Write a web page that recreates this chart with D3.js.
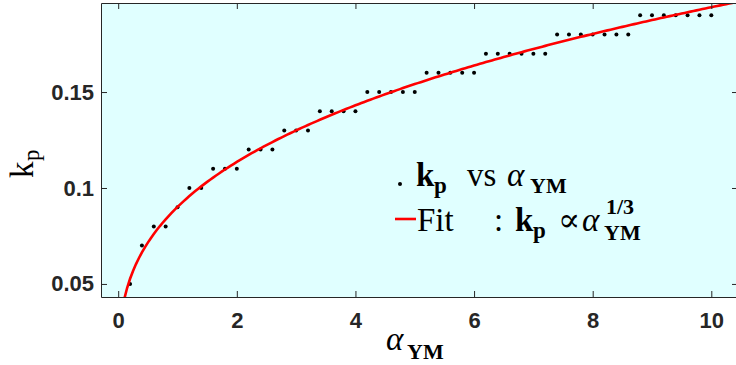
<!DOCTYPE html>
<html>
<head>
<meta charset="utf-8">
<script src="https://cdn.jsdelivr.net/npm/d3@7"></script>
<style>
body { margin: 0; background: #fff; }
</style>
</head>
<body>
<svg id="chart" width="736" height="365"></svg>
<script>
// kp vs alpha_YM data
const alphaYM = [0.2, 0.4, 0.6, 0.8, 1.0, 1.2, 1.4, 1.6, 1.8, 2.0,
                 2.2, 2.4, 2.6, 2.8, 3.0, 3.2, 3.4, 3.6, 3.8, 4.0,
                 4.2, 4.4, 4.6, 4.8, 5.0, 5.2, 5.4, 5.6, 5.8, 6.0,
                 6.2, 6.4, 6.6, 6.8, 7.0, 7.2, 7.4, 7.6, 7.8, 8.0,
                 8.2, 8.4, 8.6, 8.8, 9.0, 9.2, 9.4, 9.6, 9.8, 10.0];
const kp = [0.05, 0.07, 0.08, 0.08, 0.09, 0.10, 0.10, 0.11, 0.11, 0.11,
            0.12, 0.12, 0.12, 0.13, 0.13, 0.13, 0.14, 0.14, 0.14, 0.14,
            0.15, 0.15, 0.15, 0.15, 0.15, 0.16, 0.16, 0.16, 0.16, 0.16,
            0.17, 0.17, 0.17, 0.17, 0.17, 0.17, 0.18, 0.18, 0.18, 0.18,
            0.18, 0.18, 0.18, 0.19, 0.19, 0.19, 0.19, 0.19, 0.19, 0.19];
const xTicks = [0, 2, 4, 6, 8, 10];
const yTicks = [0.05, 0.1, 0.15];
const yTickLabels = ["0.05", "0.1", "0.15"];

const X_DOMAIN = [-0.29, 10.45];
const Y_DOMAIN = [0.0432, 0.1964];

const LEFT = 101, RIGHT = 738, TOP = 3, BOTTOM = 297;
const AXIS_COLOR = "#262626";
const SERIF = "Liberation Serif, DejaVu Serif, Noto Serif, serif";

const svg = d3.select("#chart");

const x = d3.scaleLinear().domain(X_DOMAIN).range([LEFT, RIGHT]);
const y = d3.scaleLinear().domain(Y_DOMAIN).range([BOTTOM, TOP]);

// plot background
svg.append("rect")
    .attr("x", LEFT).attr("y", TOP)
    .attr("width", RIGHT - LEFT).attr("height", BOTTOM - TOP)
    .attr("fill", "#e0ffff");

svg.append("clipPath").attr("id", "plotclip")
  .append("rect")
    .attr("x", LEFT).attr("y", TOP)
    .attr("width", RIGHT - LEFT).attr("height", BOTTOM - TOP);

// data dots
svg.append("g")
  .selectAll("circle")
  .data(alphaYM)
  .join("circle")
    .attr("cx", d => x(d))
    .attr("cy", (d, i) => y(kp[i]))
    .attr("r", 2)
    .attr("fill", "#000");

// least squares fit kp = c * alpha^(1/3)
let num = 0, den = 0;
alphaYM.forEach((a, i) => {
  num += kp[i] * Math.cbrt(a);
  den += Math.pow(a, 2 / 3);
});
const fitC = num / den;
const fitAlpha = d3.range(0.1, X_DOMAIN[1] + 0.05, 0.05);

const line = d3.line()
    .x(a => x(a))
    .y(a => y(fitC * Math.cbrt(a)));

svg.append("path")
    .datum(fitAlpha)
    .attr("clip-path", "url(#plotclip)")
    .attr("d", line)
    .attr("fill", "none")
    .attr("stroke", "#ff0000")
    .attr("stroke-width", 2.6);

// axes, ticks pointing inward
function styleAxis(g) {
  g.select(".domain").attr("stroke", AXIS_COLOR);
  g.selectAll(".tick line").attr("stroke", AXIS_COLOR);
  g.selectAll(".tick text")
    .attr("fill", AXIS_COLOR)
    .attr("font-family", "Liberation Sans, Arial, sans-serif")
    .attr("font-weight", "bold")
    .attr("font-size", 22);
}

svg.append("g")
    .attr("transform", `translate(0,${BOTTOM})`)
    .call(d3.axisBottom(x).tickValues(xTicks).tickFormat(d3.format("d"))
      .tickSizeInner(-6).tickSizeOuter(0).tickPadding(15))
    .call(styleAxis);

svg.append("g")
    .attr("transform", `translate(0,${TOP})`)
    .call(d3.axisTop(x).tickValues(xTicks).tickFormat("")
      .tickSizeInner(-6).tickSizeOuter(0))
    .call(styleAxis);

svg.append("g")
    .attr("transform", `translate(${LEFT},0)`)
    .call(d3.axisLeft(y).tickValues(yTicks).tickFormat((d, i) => yTickLabels[i])
      .tickSizeInner(-6).tickSizeOuter(0).tickPadding(7))
    .call(styleAxis);

svg.append("g")
    .attr("transform", `translate(${RIGHT},0)`)
    .call(d3.axisRight(y).tickValues(yTicks).tickFormat("")
      .tickSizeInner(-6).tickSizeOuter(0))
    .call(styleAxis);

// text helper: pieces [text, x, y, size, weight, style]
function mathText(g, pieces) {
  pieces.forEach(p => {
    g.append("text")
      .attr("x", p[1]).attr("y", p[2])
      .attr("font-family", SERIF)
      .attr("font-size", p[3])
      .attr("font-weight", p[4] || "normal")
      .attr("font-style", p[5] || "normal")
      .attr("fill", "#000")
      .text(p[0]);
  });
}

// y label
const yl = svg.append("g").attr("transform", "translate(33,178) rotate(-90)");
mathText(yl, [["k", 0, 0, 33], ["p", 17, 6, 23]]);

// x label
const xl = svg.append("g");
mathText(xl, [["α", 386, 350, 33, "normal", "italic"], ["YM", 407, 359, 22, "bold"]]);

// legend
const lg = svg.append("g");
lg.append("circle").attr("cx", 400).attr("cy", 184).attr("r", 2).attr("fill", "#000");
mathText(lg, [
  ["k", 416, 186, 33, "bold"], ["p", 434, 193, 23, "bold"],
  ["vs", 467, 186, 33], ["α", 507, 186, 33, "normal", "italic"],
  ["YM", 530, 193, 22, "bold"]
]);
lg.append("line")
    .attr("x1", 395).attr("x2", 416).attr("y1", 219).attr("y2", 219)
    .attr("stroke", "#ff0000").attr("stroke-width", 2.6);
mathText(lg, [
  ["Fit", 417, 231, 33], [":", 494, 231, 33],
  ["k", 515, 231, 33, "bold"], ["p", 533, 238, 23, "bold"],
  ["∝", 558, 231, 33], ["α", 582, 231, 33, "normal", "italic"],
  ["1/3", 606, 214, 22, "bold"], ["YM", 604, 240, 22, "bold"]
]);
</script>
</body>
</html>
